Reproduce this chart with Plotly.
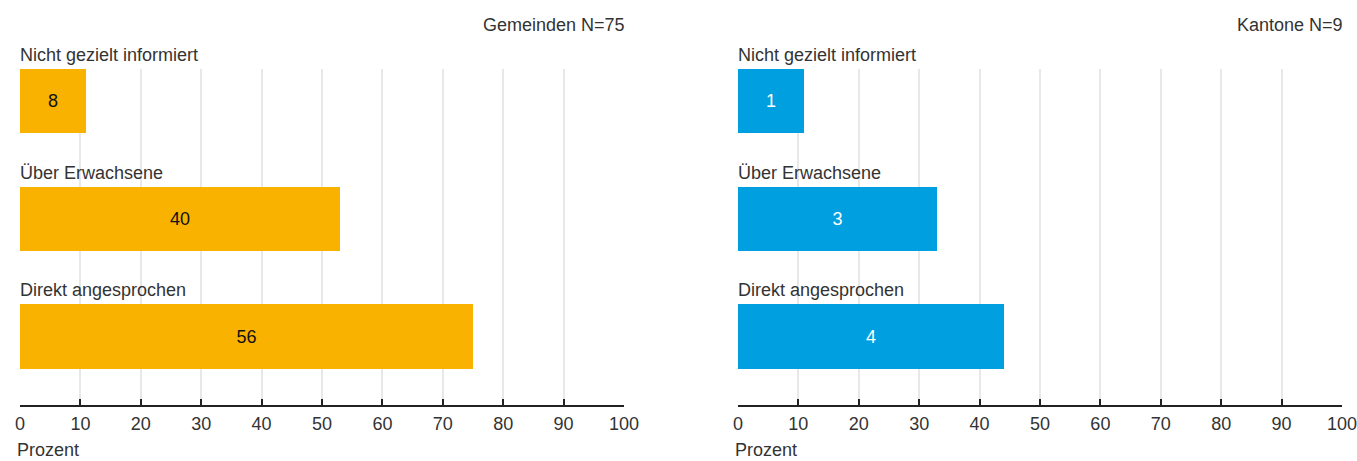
import plotly.graph_objects as go

kategorien = ["Nicht gezielt informiert", "Über Erwachsene", "Direkt angesprochen"]
gemeinden_prozent = [11, 53, 75]
gemeinden_anzahl = [8, 40, 56]
kantone_prozent = [11, 33, 44]
kantone_anzahl = [1, 3, 4]
titel = ["Gemeinden N=75", "Kantone N=9"]
x_ticks = [0, 10, 20, 30, 40, 50, 60, 70, 80, 90, 100]

schrift = "Liberation Sans"
grau = "#333333"
pos = list(range(len(kategorien)))

fig = go.Figure()
fig.add_trace(go.Bar(
    x=gemeinden_prozent, y=pos, orientation="h", width=0.545,
    marker=dict(color="#F9B200", line_width=0),
    text=gemeinden_anzahl, textposition="inside", insidetextanchor="middle",
    textfont=dict(color="#111111", size=18, family=schrift),
    xaxis="x", yaxis="y", hoverinfo="skip"))
fig.add_trace(go.Bar(
    x=kantone_prozent, y=pos, orientation="h", width=0.545,
    marker=dict(color="#009FE0", line_width=0),
    text=kantone_anzahl, textposition="inside", insidetextanchor="middle",
    textfont=dict(color="white", size=18, family=schrift),
    xaxis="x2", yaxis="y2", hoverinfo="skip"))

achse_x = dict(range=[0, 100], tickvals=x_ticks, showgrid=True, gridcolor="#e8e8e8",
               gridwidth=1.5, showline=True, linecolor="#222222", linewidth=1.5,
               ticks="inside", ticklen=6, tickcolor="#222222", tickwidth=1.5,
               ticklabelstandoff=2, ticklabeloverflow="allow",
               tickfont=dict(size=18, color=grau, family=schrift), zeroline=False,
               fixedrange=True, automargin=False)
achse_y = dict(range=[2.582, -0.272], showticklabels=False, showgrid=False,
               zeroline=False, showline=False, fixedrange=True, automargin=False)

fig.update_layout(
    width=1357, height=461,
    margin=dict(l=20, r=15, t=69, b=56),
    plot_bgcolor="white", paper_bgcolor="white",
    showlegend=False, bargap=0,
    font=dict(family=schrift, color=grau, size=18),
    xaxis=dict(domain=[0, 0.4569], anchor="y", **achse_x),
    yaxis=dict(domain=[0, 1], anchor="x", **achse_y),
    xaxis2=dict(domain=[0.5431, 1], anchor="y2", **achse_x),
    yaxis2=dict(domain=[0, 1], anchor="x2", **achse_y),
)

for i, (xr, yr) in enumerate([("x", "y"), ("x2", "y2")]):
    fig.add_annotation(text=titel[i], xref=xr + " domain", yref="paper", x=1, y=1,
                       xanchor="right", yanchor="bottom", xshift=3, yshift=32,
                       showarrow=False, font=dict(size=18, color=grau, family=schrift))
    fig.add_annotation(text="Prozent", xref=xr + " domain", yref="paper", x=0, y=0,
                       xanchor="left", yanchor="top", xshift=-5, yshift=-33,
                       showarrow=False, font=dict(size=18, color=grau, family=schrift))
    for p, k in zip(pos, kategorien):
        fig.add_annotation(text=k, xref=xr, yref=yr, x=0, y=p - 0.272,
                           xanchor="left", yanchor="bottom", xshift=-2, yshift=2,
                           showarrow=False, font=dict(size=18, color=grau, family=schrift))

fig.write_html("out.html", config={"displayModeBar": False},
               post_script="document.body.style.margin='0';")
